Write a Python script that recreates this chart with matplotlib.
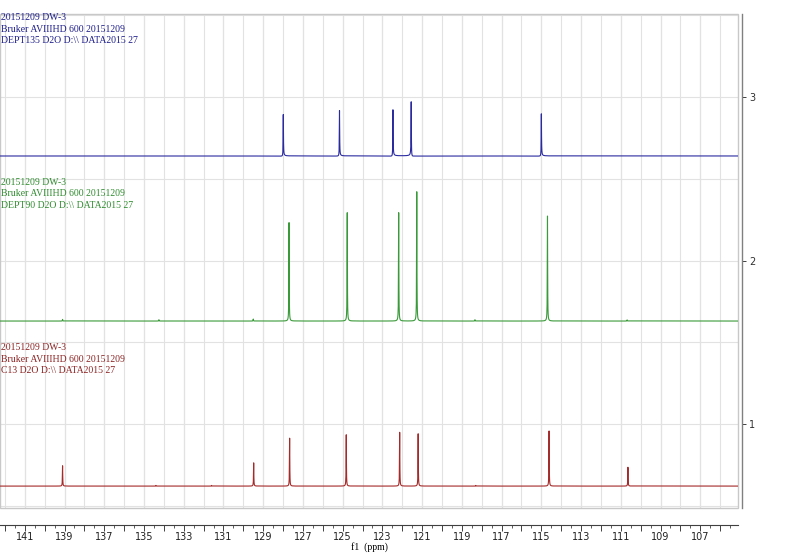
import numpy as np
import matplotlib
matplotlib.use("Agg")
import matplotlib.pyplot as plt
from matplotlib.ticker import MultipleLocator, FuncFormatter
from matplotlib.patches import Rectangle

# peak lists (ppm, height above baseline)
blue_ppm = [127.99, 125.16, 122.47, 121.55, 115.00]
blue_height = [0.253, 0.277, 0.281, 0.330, 0.257]
blue_phase = [0.1, 0.08, 0.12, -0.12, 0.1]

green_ppm = [127.70, 124.77, 122.18, 121.27, 114.69, 139.10, 134.25, 129.50, 118.34, 110.68]
green_height = [0.602, 0.663, 0.663, 0.791, 0.642, 0.010, 0.008, 0.012, 0.008, 0.007]

red_ppm = [139.10, 129.48, 127.67, 124.82, 122.13, 121.20, 114.61, 110.64, 134.40, 131.60, 118.30]
red_height = [0.124, 0.142, 0.293, 0.314, 0.329, 0.320, 0.337, 0.115, 0.004, 0.004, 0.004]

offsets = [2.639, 1.630, 0.621]
titles = [
    ["20151209 DW-3", "Bruker AVIIIHD 600 20151209", "DEPT135 D2O D:\\\\ DATA2015 27"],
    ["20151209 DW-3", "Bruker AVIIIHD 600 20151209", "DEPT90 D2O D:\\\\ DATA2015 27"],
    ["20151209 DW-3", "Bruker AVIIIHD 600 20151209", "C13 D2O D:\\\\ DATA2015 27"],
]
line_color = ["#2B2BA0", "#3A9A3A", "#A52A2A"]
text_color = ["#1C1C8A", "#2E8B2E", "#8B2323"]
text_top = [13, 178, 343]  # pixels from top

x = np.linspace(105.0, 142.5, 60000)
w = 0.009


def spectrum(ppm, height, phase=None):
    y = np.zeros_like(x)
    for i in range(len(ppm)):
        d = x - ppm[i]
        p = 0.0 if phase is None else phase[i]
        y += height[i] * (w * w - p * w * d) / (d * d + w * w)
    return y


specs = [spectrum(blue_ppm, blue_height, blue_phase),
         spectrum(green_ppm, green_height),
         spectrum(red_ppm, red_height)]

fig = plt.figure(figsize=(7.92, 5.53), dpi=100)
ax = fig.add_axes([0.0, 45 / 553, 738 / 792, 494 / 553])

for i in range(3):
    ax.plot(x, specs[i] + offsets[i], color=line_color[i], lw=0.8)

ax.set_xlim(142.25, 105.1)
ax.set_ylim(0.487, 3.507)

# x axis
ax.xaxis.set_major_locator(MultipleLocator(1))
ax.xaxis.set_minor_locator(MultipleLocator(0.5))
ax.xaxis.set_major_formatter(FuncFormatter(lambda v, pos: "%d" % round(v) if round(v) % 2 == 1 else ""))
ax.tick_params(axis="x", which="major", length=4, width=0.7, color="#404040", pad=1,
               labelsize=7, labelcolor="#202020")
ax.tick_params(axis="x", which="minor", length=2, width=0.6, color="#404040")
for lab in ax.get_xticklabels():
    lab.set_fontfamily("Liberation Serif")

# y axis on right
ax.yaxis.tick_right()
ax.set_yticks([1, 2, 3])
ax.yaxis.set_minor_locator(MultipleLocator(0.5))
ax.tick_params(axis="y", which="major", length=3, width=0.7, color="#404040", pad=2,
               labelsize=7, labelcolor="#303030")
ax.tick_params(axis="y", which="minor", length=0)

ax.grid(axis="x", which="major", color="#E2E2E2", lw=0.8)
ax.grid(axis="y", which="both", color="#E2E2E2", lw=0.8)
for v in range(107, 142, 2):
    ax.axvline(v, color="#D0D0D0", lw=0.8, zorder=0.5)
ax.set_axisbelow(True)

ax.spines["top"].set_visible(False)
ax.spines["left"].set_visible(False)
ax.spines["bottom"].set_position(("outward", 12.5))
ax.spines["bottom"].set_color("#404040")
ax.spines["bottom"].set_linewidth(0.8)
ax.spines["right"].set_position(("outward", 3))
ax.spines["right"].set_color("#808080")
ax.spines["right"].set_linewidth(1.0)
ax.add_patch(Rectangle((0, 0), 1, 1, transform=ax.transAxes, fill=False,
                       edgecolor="#C8C8C8", lw=1.0, clip_on=False, zorder=0.6))

ax.set_xlabel("f1  (ppm)", fontfamily="Liberation Serif", fontsize=7, labelpad=0)

for i in range(3):
    for k in range(3):
        fig.text(1 / 792, 1 - (text_top[i] + k * 11.5) / 553, titles[i][k],
                 color=text_color[i], fontsize=7, fontfamily="Liberation Serif",
                 va="top", ha="left")

fig.savefig("out.png", dpi=100)
